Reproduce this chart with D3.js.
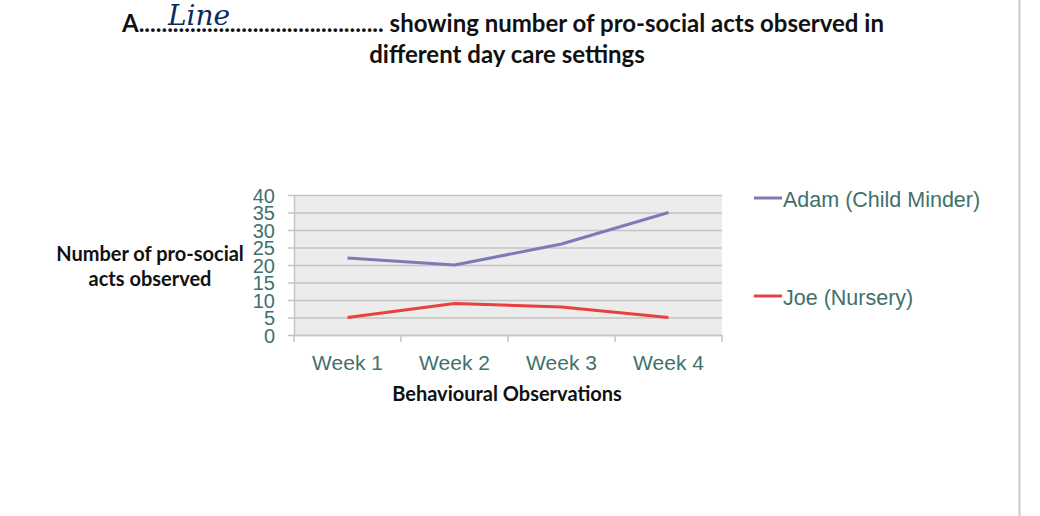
<!DOCTYPE html>
<html>
<head>
<meta charset="utf-8">
<script src="https://cdn.jsdelivr.net/npm/d3@7"></script>
<style>
  body { margin: 0; background: #fff; }
  svg { display: block; }
</style>
</head>
<body>
<div id="chart"></div>
<script>
// data
const weeks = ['Week 1', 'Week 2', 'Week 3', 'Week 4'];
const adam = [22, 20, 26, 35];
const joe = [5, 9, 8, 5];
const seriesNames = ['Adam (Child Minder)', 'Joe (Nursery)'];
const yTicks = [0, 5, 10, 15, 20, 25, 30, 35, 40];

const width = 1040, height = 516;
const plot = {left: 294, right: 722, top: 195, bottom: 335};
const tealText = '#3f716c';
const colors = ['#7b7bb8', '#e8413e'];

const svg = d3.select('#chart').append('svg')
  .attr('width', width)
  .attr('height', height);

// page edge line on the right
svg.append('line')
  .attr('x1', 1019.5).attr('x2', 1019.5)
  .attr('y1', 0).attr('y2', 516)
  .style('stroke', '#c8c8c8')
  .style('stroke-width', 2);

// title
const titleFont = 'Lato, "Open Sans", sans-serif';
const t1 = svg.append('text')
  .attr('x', 122).attr('y', 32)
  .style('font-family', titleFont)
  .style('font-weight', 'bold')
  .style('font-size', '24px')
  .style('fill', '#111');
t1.append('tspan').text('A');
t1.append('tspan').text('.'.repeat(43));
t1.append('tspan').text(' showing number of pro-social acts observed in');

svg.append('text')
  .attr('x', 507).attr('y', 63)
  .attr('text-anchor', 'middle')
  .style('font-family', titleFont)
  .style('font-weight', 'bold')
  .style('font-size', '24px')
  .style('fill', '#111')
  .text('different day care settings');

// handwritten word
svg.append('text')
  .attr('x', 168).attr('y', 25)
  .style('font-family', '"DejaVu Serif", serif')
  .style('font-style', 'italic')
  .style('font-size', '28px')
  .style('fill', '#0d2a5c')
  .text('Line');

// scales
const x = d3.scaleBand().domain(weeks).range([plot.left, plot.right]);
const y = d3.scaleLinear().domain([0, 40]).range([plot.bottom, plot.top]);

// plot background
svg.append('rect')
  .attr('x', plot.left).attr('y', plot.top)
  .attr('width', plot.right - plot.left)
  .attr('height', plot.bottom - plot.top)
  .style('fill', '#ececec');

// gridlines
svg.append('g')
  .selectAll('line')
  .data(yTicks)
  .enter()
  .append('line')
  .attr('x1', plot.left - 6).attr('x2', plot.right)
  .attr('y1', d => y(d) + 0.5).attr('y2', d => y(d) + 0.5)
  .style('stroke', '#c4c4c4')
  .style('stroke-width', 1.5);

// y axis
const yAxis = svg.append('g')
  .attr('transform', `translate(${plot.left},0)`)
  .call(d3.axisLeft(y).tickValues(yTicks).tickSize(0).tickPadding(19));
yAxis.select('.domain').style('stroke', '#c4c4c4').style('stroke-width', 1.5);
yAxis.selectAll('text')
  .style('font-family', '"Liberation Sans", Arial, sans-serif')
  .style('font-size', '20px')
  .style('fill', tealText)
  .attr('dy', '0.36em');

// x axis with ticks on band edges
const xAxis = svg.append('g')
  .attr('transform', `translate(0,${plot.bottom})`)
  .call(d3.axisBottom(x).tickSize(0).tickPadding(20));
xAxis.select('.domain').style('stroke', '#c4c4c4').style('stroke-width', 1.5);
xAxis.selectAll('text')
  .style('font-family', '"Liberation Sans", Arial, sans-serif')
  .style('font-size', '21px')
  .style('fill', tealText);
const edges = weeks.map(w => x(w)).concat([x.range()[1]]);
xAxis.selectAll('.edge')
  .data(edges)
  .enter()
  .append('line')
  .attr('class', 'edge')
  .attr('x1', d => d).attr('x2', d => d)
  .attr('y1', 0).attr('y2', 7)
  .style('stroke', '#c4c4c4')
  .style('stroke-width', 1.5);

// axis titles
const boldFont = 'Lato, "Open Sans", sans-serif';
svg.append('text')
  .attr('x', 507).attr('y', 401)
  .attr('text-anchor', 'middle')
  .style('font-family', boldFont)
  .style('font-weight', 'bold')
  .style('font-size', '20px')
  .style('fill', '#111')
  .text('Behavioural Observations');

const yTitle = svg.append('text')
  .attr('text-anchor', 'middle')
  .style('font-family', boldFont)
  .style('font-weight', 'bold')
  .style('font-size', '20px')
  .style('fill', '#111');
yTitle.append('tspan').attr('x', 150).attr('y', 261).text('Number of pro-social');
yTitle.append('tspan').attr('x', 150).attr('y', 286).text('acts observed');

// lines
const line = d3.line()
  .x((d, i) => x(weeks[i]) + x.bandwidth() / 2)
  .y(d => y(d));

[adam, joe].forEach((vals, i) => {
  svg.append('path')
    .datum(vals)
    .attr('d', line)
    .style('fill', 'none')
    .style('stroke', colors[i])
    .style('stroke-width', 3)
    .style('stroke-linejoin', 'round');
});

// legend
const legendY = [198, 296];
seriesNames.forEach((name, i) => {
  svg.append('line')
    .attr('x1', 754).attr('x2', 782)
    .attr('y1', legendY[i]).attr('y2', legendY[i])
    .style('stroke', colors[i])
    .style('stroke-width', 3);
  svg.append('text')
    .attr('x', 783).attr('y', legendY[i])
    .attr('dy', '0.4em')
    .style('font-family', '"Liberation Sans", Arial, sans-serif')
    .style('font-size', '21.5px')
    .style('fill', tealText)
    .text(name);
});
</script>
</body>
</html>
